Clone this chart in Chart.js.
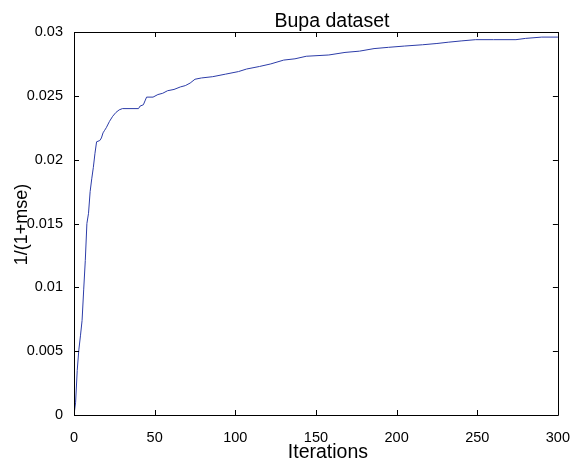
<!DOCTYPE html>
<html>
<head>
<meta charset="utf-8">
<title>Bupa dataset</title>
<script src="https://cdn.jsdelivr.net/npm/chart.js@4/dist/chart.umd.min.js"></script>
<style>
  html, body { margin: 0; padding: 0; background: #fff; }
  #wrap { width: 576px; height: 463px; }
</style>
</head>
<body>
<div id="wrap"><canvas id="chart" width="576" height="463"></canvas></div>
<script>
// Best fitness 1/(1+mse) per iteration on the Bupa dataset
const iterations = [
  0, 1, 2, 3, 4, 5, 6, 7, 8, 9, 10, 11, 12, 13, 14, 16, 17, 18, 19, 20,
  22, 24, 26, 28, 30, 40, 41, 43, 44, 45, 49, 52, 55, 58, 62, 66, 69, 72,
  75, 79, 86, 94, 102, 107, 115, 122, 130, 137, 144, 158, 168, 177, 186,
  195, 205, 216, 225, 232, 240, 249, 260, 274, 280, 290, 300
];
const fitness = [
  0.0000, 0.0010, 0.0035, 0.0051, 0.0062, 0.0074, 0.0098, 0.0121, 0.0150, 0.0158,
  0.0175, 0.0185, 0.0194, 0.0205, 0.0214, 0.0215, 0.0217, 0.0221, 0.0223, 0.0225,
  0.0230, 0.0234, 0.0237, 0.0239, 0.0240, 0.0240, 0.0242, 0.0243, 0.0246, 0.0249,
  0.0249, 0.0251, 0.0252, 0.0254, 0.0255, 0.0257, 0.0258, 0.0260, 0.0263, 0.0264,
  0.0265, 0.0267, 0.0269, 0.0271, 0.0273, 0.0275, 0.0278, 0.0279, 0.0281, 0.0282,
  0.0284, 0.0285, 0.0287, 0.0288, 0.0289, 0.0290, 0.0291, 0.0292, 0.0293, 0.0294,
  0.0294, 0.0294, 0.0295, 0.0296, 0.0296
];

const xTickValues = [0, 50, 100, 150, 200, 250, 300];
const xTickLabels = ['0', '50', '100', '150', '200', '250', '300'];
const yTickValues = [0, 0.005, 0.01, 0.015, 0.02, 0.025, 0.03];
const yTickLabels = ['0', '0.005', '0.01', '0.015', '0.02', '0.025', '0.03'];

const chartTitle = 'Bupa dataset';
const xTitle = 'Iterations';
const yTitle = '1/(1+mse)';

const FONT = "'Liberation Sans', Arial, Helvetica, sans-serif";

// Box around the axes, inward tick marks on all four sides, and the titles
const boxAxes = {
  id: 'boxAxes',
  afterDraw(chart) {
    const { ctx, chartArea: a, scales: { x, y } } = chart;
    const len = 5;
    const midX = (a.left + a.right) / 2;
    ctx.save();
    ctx.strokeStyle = '#000';
    ctx.lineWidth = 1;
    ctx.beginPath();
    ctx.rect(Math.round(a.left) + 0.5, Math.round(a.top) + 0.5,
             Math.round(a.right - a.left), Math.round(a.bottom - a.top));
    xTickValues.forEach(v => {
      const px = Math.round(x.getPixelForValue(v)) + 0.5;
      ctx.moveTo(px, a.bottom); ctx.lineTo(px, a.bottom - len);
      ctx.moveTo(px, a.top); ctx.lineTo(px, a.top + len);
    });
    yTickValues.forEach(v => {
      const py = Math.round(y.getPixelForValue(v)) + 0.5;
      ctx.moveTo(a.left, py); ctx.lineTo(a.left + len, py);
      ctx.moveTo(a.right, py); ctx.lineTo(a.right - len, py);
    });
    ctx.stroke();

    ctx.fillStyle = '#000';
    ctx.textAlign = 'center';
    ctx.textBaseline = 'alphabetic';
    ctx.font = '19.5px ' + FONT;
    ctx.fillText(chartTitle, midX + 16, a.top - 5);
    ctx.fillText(xTitle, midX + 12, a.bottom + 43);

    ctx.font = '18px ' + FONT;
    ctx.textBaseline = 'middle';
    ctx.translate(22, (a.top + a.bottom) / 2 + 1);
    ctx.rotate(-Math.PI / 2);
    ctx.fillText(yTitle, 0, 0);
    ctx.restore();
  }
};

new Chart(document.getElementById('chart'), {
  type: 'scatter',
  data: {
    datasets: [{
      data: iterations.map((it, i) => ({ x: it, y: fitness[i] })),
      showLine: true,
      borderColor: '#2c3ca8',
      borderWidth: 1,
      pointRadius: 0,
      tension: 0,
      fill: false
    }]
  },
  options: {
    responsive: false,
    animation: false,
    events: [],
    layout: { padding: { left: 0, right: 17, top: 32, bottom: 0 } },
    plugins: {
      legend: { display: false },
      tooltip: { enabled: false },
      title: { display: false }
    },
    scales: {
      x: {
        type: 'linear',
        min: 0,
        max: 300,
        grid: { display: false },
        border: { display: false },
        afterBuildTicks: s => { s.ticks = xTickValues.map(v => ({ value: v })); },
        afterFit: s => { s.height = 48; },
        ticks: {
          color: '#000',
          padding: 6,
          maxRotation: 0,
          autoSkip: false,
          font: { family: FONT, size: 14.5 },
          callback: (v, i) => xTickLabels[i]
        },
        title: { display: false }
      },
      y: {
        type: 'linear',
        min: 0,
        max: 0.03,
        grid: { display: false },
        border: { display: false },
        afterBuildTicks: s => { s.ticks = yTickValues.map(v => ({ value: v })); },
        afterFit: s => { s.width = 74; },
        ticks: {
          color: '#000',
          padding: 3,
          autoSkip: false,
          font: { family: FONT, size: 14.5 },
          callback: (v, i) => yTickLabels[i]
        },
        title: { display: false }
      }
    }
  },
  plugins: [boxAxes]
});
</script>
</body>
</html>
